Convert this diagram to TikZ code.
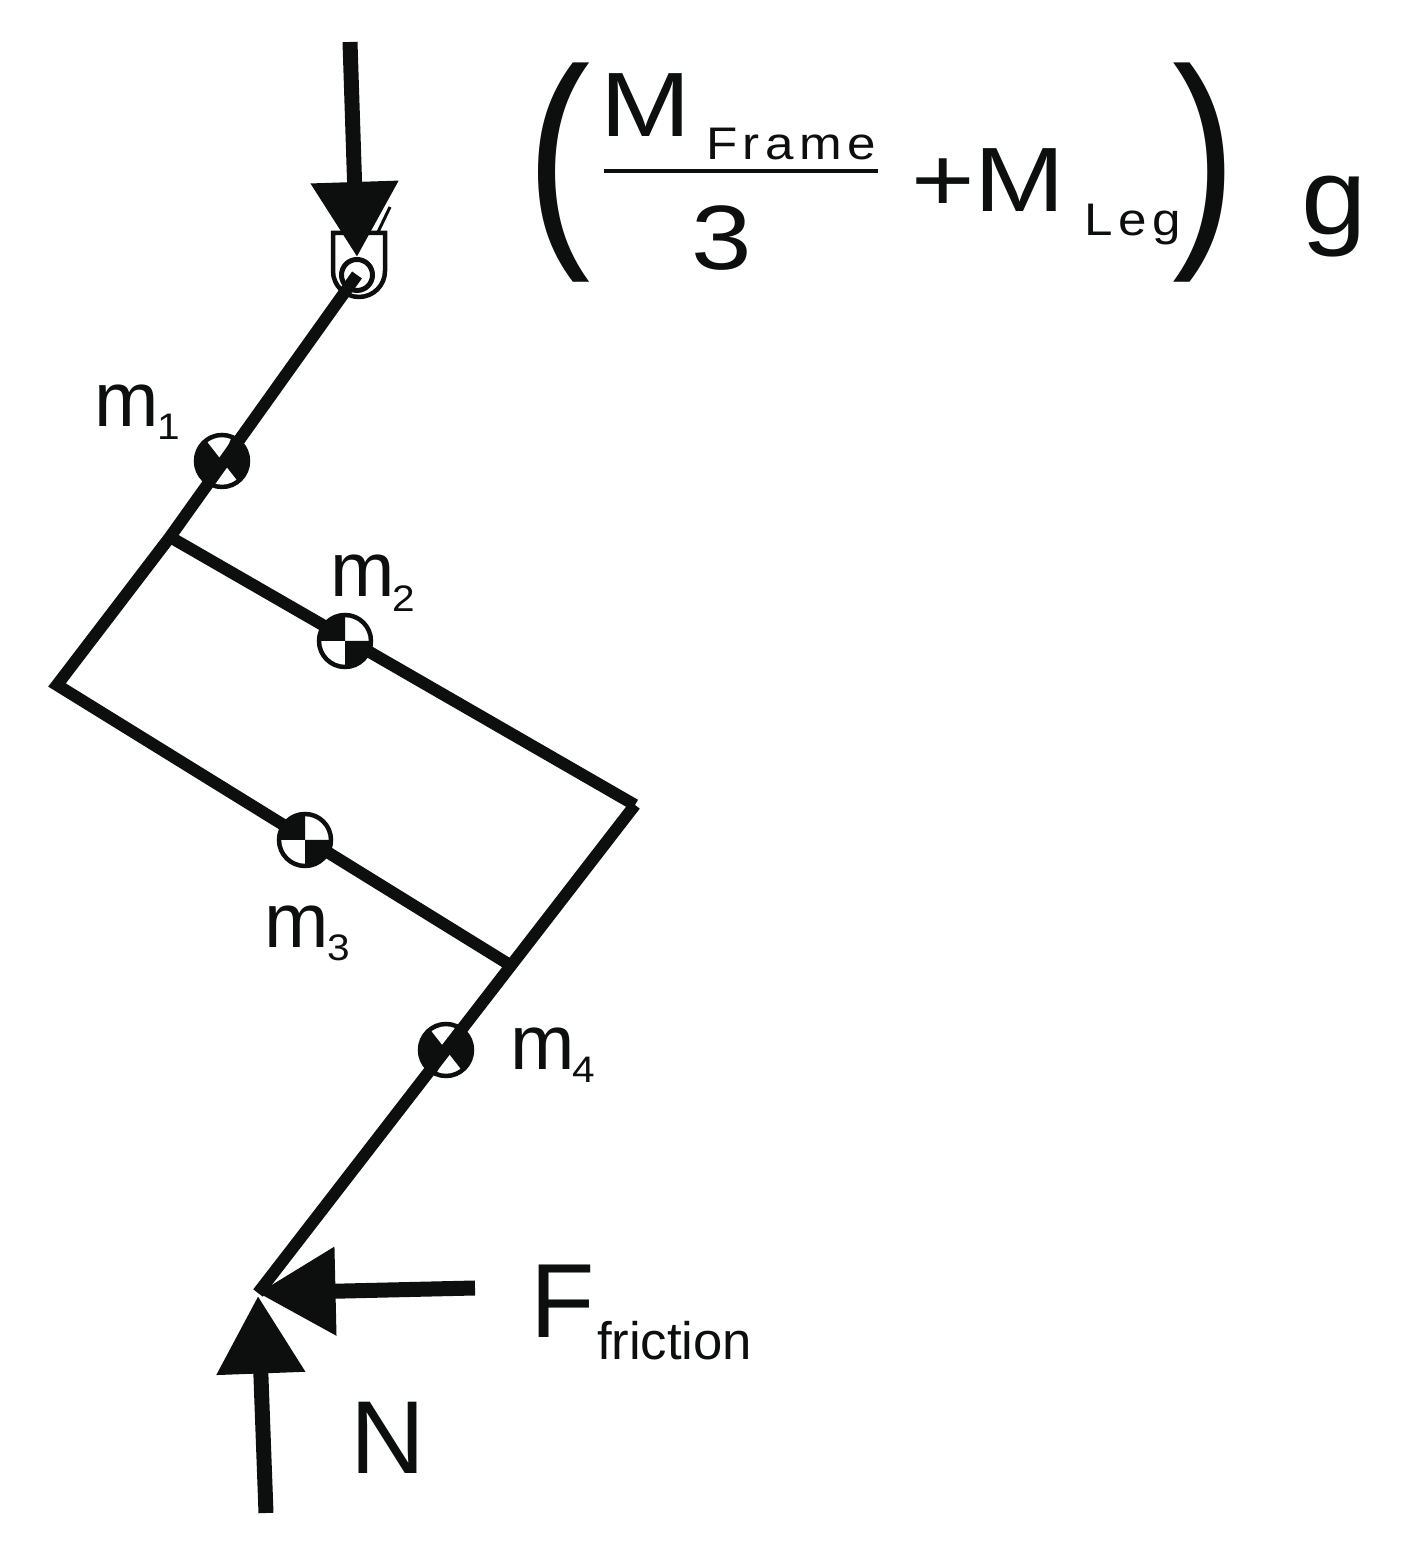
\documentclass[tikz,border=0pt]{standalone}
\usepackage{fontspec}
\setmainfont{Liberation Sans}
\newfontfamily\widefont[LetterSpace=11]{Liberation Sans}
\usetikzlibrary{arrows.meta}
\definecolor{ink}{RGB}{13,15,14}
\tikzset{
    leg/.style={line width=.24cm},
    force/.style={line width=.3cm, -{Triangle[length=1.5cm, width=1.68cm]}},
    reaction/.style={line width=.3cm, -{Triangle[length=1.55cm, width=1.7cm]}},
    thin part/.style={line width=.09cm},
    txt/.style={anchor=base west, inner sep=0pt, outer sep=0pt},
    big/.style={txt, xscale=1.19, font=\fontsize{52}{60}\selectfont},
    small/.style={txt, xscale=1.12, font=\widefont\fontsize{26}{30}\selectfont},
    mass/.style={txt, font=\fontsize{44}{50}\selectfont},
    massidx/.style={txt, xscale=1.1, font=\fontsize{21}{24}\selectfont},
    paren/.style={txt, xscale=.82, font=\fontsize{134}{140}\selectfont}
}
\begin{document}
\begin{tikzpicture}[color=ink]
    \useasboundingbox (0,0) rectangle (28.12,31);
    \coordinate (pin) at (7.14,25.5);
    \coordinate (m1) at (4.44,21.78);
    \coordinate (kneeA) at (3.40,20.26);
    \coordinate (heel) at (1.14,17.30);
    \coordinate (m2) at (6.90,18.18);
    \coordinate (m3) at (6.10,14.20);
    \coordinate (corner) at (12.70,14.90);
    \coordinate (kneeB) at (10.20,11.70);
    \coordinate (m4) at (8.92,10.00);
    \coordinate (foot) at (5.16,5.14);
    % centre of mass marks on the straight parts
    \foreach \mname in {m1,m4}
    {
        \filldraw[fill=white, draw=ink, line width=.09cm] (\mname) circle (.52);
        \fill (\mname) -- ++(128:.54) arc (128:248:.54) -- cycle;
        \fill (\mname) -- ++(308:.54) arc (308:428:.54) -- cycle;
    }
    % pin joint at the top
    \coordinate (forkL) at (6.66,26.34);
    \coordinate (forkR) at (7.70,26.34);
    \coordinate (slashA) at (7.56,26.36);
    \coordinate (slashB) at (7.80,26.86);
    \draw[thin part] (forkL) -- (forkR) -- ++(0,-.76) arc (0:-180:.52) -- cycle;
    \draw[line width=.06cm] (slashA) -- (slashB);
    \filldraw[fill=white, draw=ink, line width=.1cm] (pin) circle (.31);
    % leg
    \draw[leg] (pin) -- (kneeA) -- (heel) -- (kneeB);
    \draw[leg] (kneeA) -- (corner);
    \draw[leg] (corner) -- (foot);
    % centre of mass marks on the cross parts
    \foreach \mname in {m2,m3}
    {
        \filldraw[fill=white, draw=ink, line width=.09cm] (\mname) circle (.52);
        \fill (\mname) -- ++(90:.54) arc (90:180:.54) -- cycle;
        \fill (\mname) -- ++(270:.54) arc (270:360:.54) -- cycle;
    }
    % forces
    \coordinate (topF) at (7.00,30.16);
    \coordinate (topT) at (7.14,25.86);
    \coordinate (fricF) at (9.50,5.24);
    \coordinate (fricT) at (5.16,5.14);
    \coordinate (normF) at (5.32,0.74);
    \coordinate (normT) at (5.16,5.08);
    \draw[force] (topF) -- (topT);
    \draw[reaction] (fricF) -- (fricT);
    \draw[reaction] (normF) -- (normT);
    % load expression
    \node[paren] (openP) at (10.53,26.32) {(};
    \node[paren] (closeP) at (23.44,26.32) {)};
    \node[big] (mFrame) at (12.0,28.26) {M};
    \node[small] (frame) at (14.12,27.80) {Frame};
    \coordinate (barL) at (12.08,27.58);
    \coordinate (barR) at (17.56,27.58);
    \draw[thin part] (barL) -- (barR);
    \node[big] (three) at (13.82,25.6) {3};
    \node[big] (plusM) at (18.22,26.76) {+M};
    \node[small] (legname) at (21.68,26.28) {Leg};
    \node[txt, xscale=1.08, font=\fontsize{62}{70}\selectfont] (gee) at (26.02,26.3) {g};
    % mass labels
    \node[mass] (l1) at (1.88,22.46) {m};
    \node[massidx] (i1) at (3.14,22.2) {1};
    \node[mass] (l2) at (6.60,19.06) {m};
    \node[massidx] (i2) at (7.84,18.76) {2};
    \node[mass] (l3) at (5.28,12.04) {m};
    \node[massidx] (i3) at (6.54,11.78) {3};
    \node[mass] (l4) at (10.20,9.60) {m};
    \node[massidx] (i4) at (11.44,9.34) {4};
    % reaction labels
    \node[txt, font=\fontsize{60}{66}\selectfont] (fF) at (10.60,4.24) {F};
    \node[txt, font=\fontsize{30}{34}\selectfont] (fric) at (11.94,3.80) {friction};
    \node[txt, font=\fontsize{59}{66}\selectfont] (nN) at (7.00,1.52) {N};
\end{tikzpicture}
\end{document}
